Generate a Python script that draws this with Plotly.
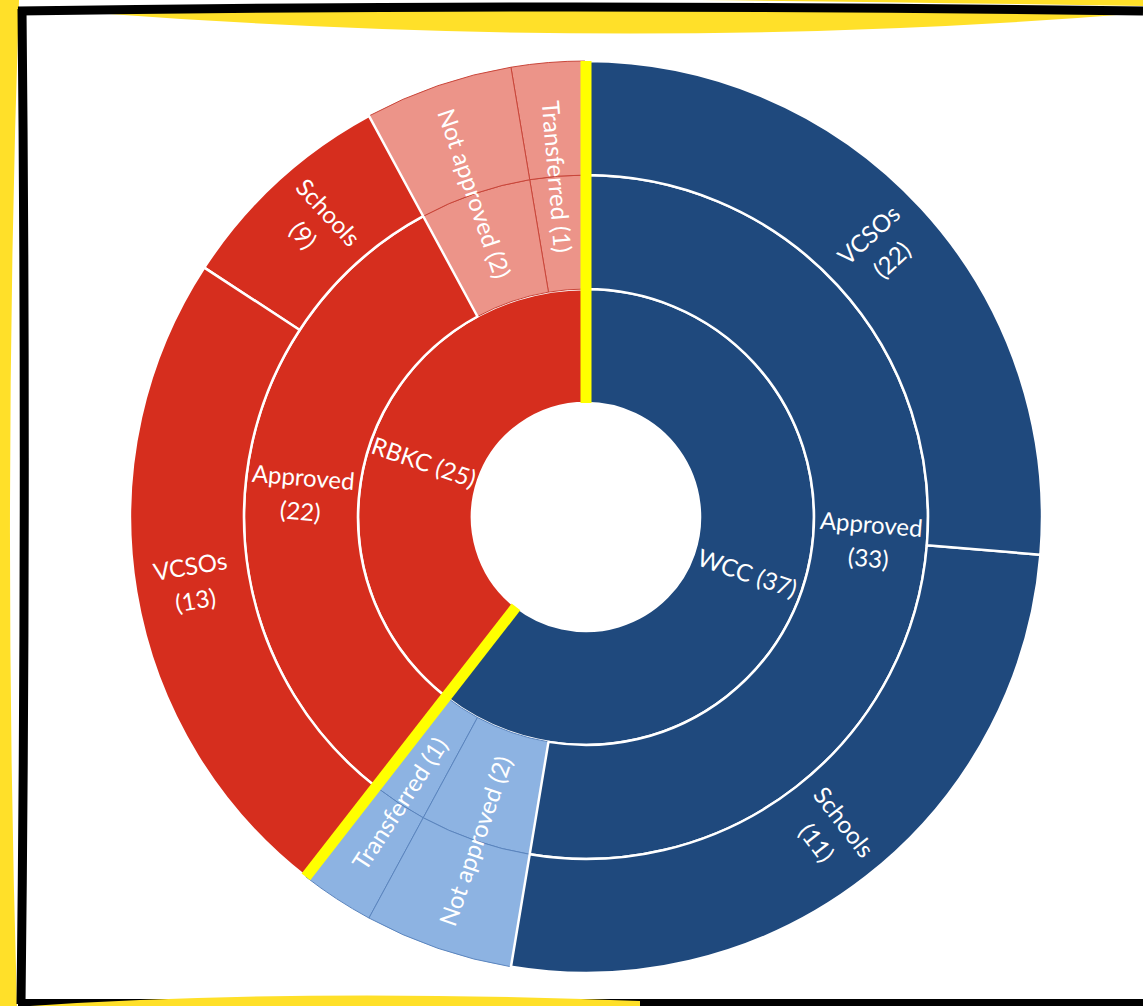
import math
import plotly.graph_objects as go

# ---------------- data ----------------
groups = ["RBKC", "WCC"]
group_counts = [25, 37]
statuses = ["Transferred", "Not approved", "Approved"]
status_counts_rbkc = [1, 2, 22]
status_counts_wcc = [1, 2, 33]
types = ["Schools", "VCSOs"]
type_counts_rbkc = [9, 13]
type_counts_wcc = [11, 22]
# relative arc sizes as drawn in the picture (Transferred, Not approved, Schools, VCSOs)
arc_rbkc = [1, 2, 3, 9]
arc_wcc = [1, 2, 10, 10]

status_counts = {"RBKC": status_counts_rbkc, "WCC": status_counts_wcc}
type_counts = {"RBKC": type_counts_rbkc, "WCC": type_counts_wcc}
arcs = {"RBKC": arc_rbkc, "WCC": arc_wcc}

# ---------------- style ----------------
dark = {"RBKC": "#D62E1E", "WCC": "#1F497D"}
light = {"RBKC": "#EC9489", "WCC": "#8DB3E2"}
light_line = {"RBKC": "#C9463A", "WCC": "#5B85BE"}
FONT = "Lato, Carlito, Calibri, sans-serif"
FS = 24
LINE_PX = 34

W, H = 1143, 1006
CX, CY, R = 586, 517, 456
LEVELS = 4
UNIT = R / LEVELS


def px(x):
    return x / W


def py(y):
    return 1 - y / H


# ---------------- build hierarchy ----------------
ids, labels, parents, values = [], [], [], []
colors, lcolors, lwidths = [], [], []
label_specs = []  # (lines, r_units, a0, a1)

total_arc = sum(sum(arcs[g]) for g in groups)
ids.append("root"); labels.append(""); parents.append(""); values.append(total_arc)
colors.append("#FFFFFF"); lcolors.append("#FFFFFF"); lwidths.append(2)

cum = 0
for gi, g in enumerate(groups):
    a_t, a_na, a_s, a_v = arcs[g]
    g_arc = a_t + a_na + a_s + a_v
    ids.append(g); labels.append(g); parents.append("root"); values.append(g_arc)
    colors.append(dark[g]); lcolors.append("#FFFFFF"); lwidths.append(2.5)
    label_specs.append(([f"{g} ({group_counts[gi]})"], 1.5, cum, cum + g_arc))
    sub = cum
    for si, s in enumerate(statuses):
        sid = f"{g}/{s}"
        cnt = status_counts[g][si]
        if s == "Approved":
            s_arc = a_s + a_v
            ids.append(sid); labels.append(s); parents.append(g); values.append(s_arc)
            colors.append(dark[g]); lcolors.append("#FFFFFF"); lwidths.append(2.5)
            label_specs.append(([s, f"({cnt})"], 2.5, sub, sub + s_arc))
            tsub = sub
            for ti, t in enumerate(types):
                t_arc = [a_s, a_v][ti]
                ids.append(f"{sid}/{t}"); labels.append(t); parents.append(sid); values.append(t_arc)
                colors.append(dark[g]); lcolors.append("#FFFFFF"); lwidths.append(2.5)
                label_specs.append(([t, f"({type_counts[g][ti]})"], 3.5, tsub, tsub + t_arc))
                tsub += t_arc
        else:
            s_arc = a_t if s == "Transferred" else a_na
            ids.append(sid); labels.append(s); parents.append(g); values.append(s_arc)
            colors.append(light[g]); lcolors.append(light_line[g]); lwidths.append(1)
            ids.append(sid + "/outer"); labels.append(s); parents.append(sid); values.append(s_arc)
            colors.append(light[g]); lcolors.append(light_line[g]); lwidths.append(1)
            label_specs.append(([f"{s} ({cnt})"], 3.0, sub, sub + s_arc))
        sub += s_arc
    cum += g_arc

fig = go.Figure(go.Sunburst(
    ids=ids, labels=labels, parents=parents, values=values,
    branchvalues="total", sort=False, rotation=90,
    marker=dict(colors=colors, line=dict(color=lcolors, width=lwidths)),
    leaf=dict(opacity=1),
    textinfo="none", hoverinfo="skip",
    domain=dict(x=[px(CX - R), px(CX + R)], y=[py(CY + R), py(CY - R)]),
))


def norm_angle(t):
    t = t % 360
    if t > 180:
        t -= 360
    if t > 90:
        t -= 180
    if t <= -90:
        t += 180
    return t


annotations = []
for lines, r_units, a0, a1 in label_specs:
    mid = (a0 + a1) / 2 / total_arc * 360.0  # counter-clockwise from 12 o'clock
    phi = math.radians(90 + mid)
    tang = norm_angle(-(90 + mid))
    cxp = CX + r_units * UNIT * math.cos(phi)
    cyp = CY - r_units * UNIT * math.sin(phi)
    n = len(lines)
    for i, line in enumerate(lines):
        off = (i - (n - 1) / 2) * LINE_PX
        dx = -math.sin(math.radians(tang)) * off
        dy = math.cos(math.radians(tang)) * off
        annotations.append(dict(
            x=px(cxp + dx), y=py(cyp + dy), xref="paper", yref="paper",
            text=line, textangle=tang, showarrow=False,
            xanchor="center", yanchor="middle",
            font=dict(family=FONT, size=FS, color="white"),
        ))

shapes = []
# yellow separators between the two councils (at their boundaries)
for a in [0, sum(arcs["RBKC"])]:
    ang = math.radians(90 + a / total_arc * 360.0)
    x0 = CX + UNIT * math.cos(ang); y0 = CY - UNIT * math.sin(ang)
    x1 = CX + R * math.cos(ang); y1 = CY - R * math.sin(ang)
    shapes.append(dict(type="line", xref="paper", yref="paper",
                       x0=px(x0), y0=py(y0), x1=px(x1), y1=py(y1),
                       line=dict(color="#FFFF00", width=11)))


def path(points_cmds):
    out = []
    for cmd, *pts in points_cmds:
        coords = " ".join(f"{px(pts[k]):.5f},{py(pts[k+1]):.5f}" for k in range(0, len(pts), 2))
        out.append(f"{cmd} {coords}")
    return " ".join(out) + " Z"


YEL = "#FFE029"
# decorative hand-drawn frame
shapes += [
    dict(type="path", xref="paper", yref="paper", line=dict(width=0), fillcolor=YEL,
         path=path([("M", 0, 0), ("L", 19, 0), ("Q", 2, 500, 17, 1006), ("L", 0, 1006)])),
    dict(type="path", xref="paper", yref="paper", line=dict(width=0), fillcolor=YEL,
         path=path([("M", 95, 13), ("Q", 640, 54, 1143, 13), ("L", 1143, 9), ("Q", 640, 6, 95, 13)])),
    dict(type="path", xref="paper", yref="paper", line=dict(width=0), fillcolor=YEL,
         path=path([("M", 700, 0), ("L", 1143, 0), ("L", 1143, 6), ("Q", 900, 2, 700, 0)])),
    dict(type="path", xref="paper", yref="paper", line=dict(color="black", width=9),
         path="M {:.5f},{:.5f} Q {:.5f},{:.5f} {:.5f},{:.5f}".format(
             px(22), py(9), px(27), py(500), px(21), py(1004))),
    dict(type="path", xref="paper", yref="paper", line=dict(color="black", width=9),
         path="M {:.5f},{:.5f} Q {:.5f},{:.5f} {:.5f},{:.5f}".format(
             px(18), py(11), px(570), py(3), px(1143), py(11))),
    dict(type="path", xref="paper", yref="paper", line=dict(color="black", width=8),
         path="M {:.5f},{:.5f} L {:.5f},{:.5f}".format(px(18), py(1003), px(1143), py(1003))),
    dict(type="path", xref="paper", yref="paper", line=dict(width=0), fillcolor=YEL,
         path=path([("M", 30, 1006), ("Q", 300, 988, 640, 1001), ("L", 640, 1006)])),
]

fig.update_layout(
    width=W, height=H, margin=dict(l=0, r=0, t=0, b=0),
    paper_bgcolor="white", plot_bgcolor="white",
    annotations=annotations, shapes=shapes, showlegend=False,
)

fig.write_html("out.html", config={"displayModeBar": False},
               post_script="document.body.style.margin='0';document.body.style.overflow='hidden';")
